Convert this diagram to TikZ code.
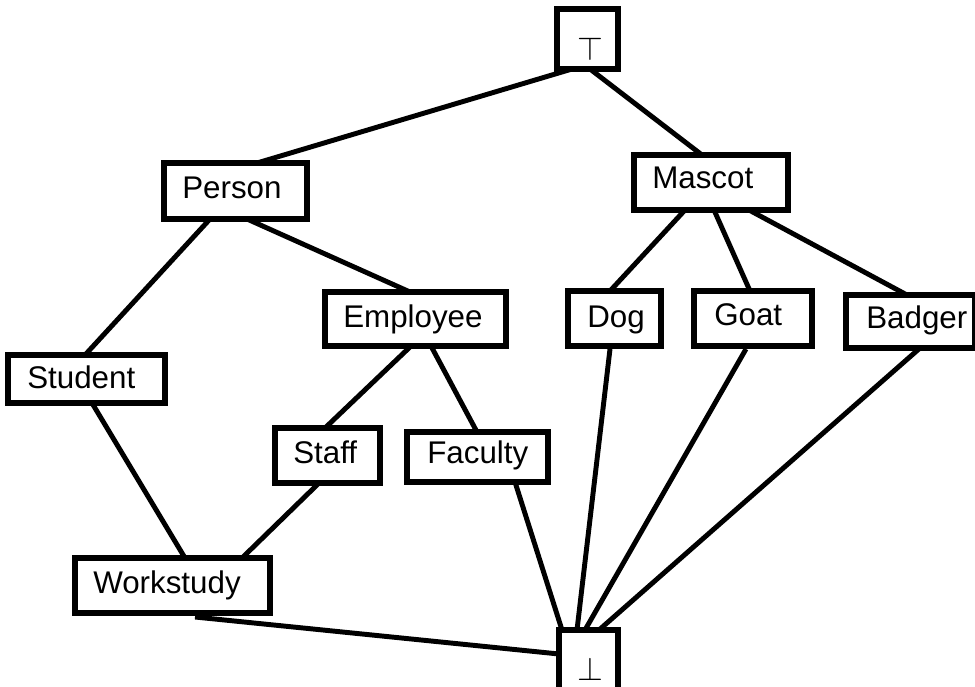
\documentclass[tikz,border=0pt]{standalone}
\usepackage{fontspec}
\setmainfont{Liberation Sans}
\usetikzlibrary{fit,calc}
\begin{document}
\begin{tikzpicture}[x=0.75pt,y=-0.75pt,
  box/.style={draw=black,line width=4.5pt,fill=white,inner sep=0pt,rectangle},
  conn/.style={draw=black,line width=3.7pt},
  lbl/.style={inner sep=0pt,anchor=base west,font=\fontsize{23.5}{28}\selectfont},
  sym/.style={inner sep=0pt,font=\fontsize{25}{25}\selectfont}]
\useasboundingbox (0,0) rectangle (975,686);
\clip (0,0) rectangle (975,686);
% boxes (path corners)
\path[draw=none] (0,0);
\node[box,draw=none,fill=none,fit={(560,12) (615,66)}] (top) {};
\node[box,draw=none,fill=none,fit={(167,166) (304,216)}] (person) {};
\node[box,draw=none,fill=none,fit={(637,158) (785,207)}] (mascot) {};
\node[box,draw=none,fill=none,fit={(328,295) (503,343)}] (employee) {};
\node[box,draw=none,fill=none,fit={(571,294) (658,343)}] (dog) {};
\node[box,draw=none,fill=none,fit={(697,294) (809,343)}] (goat) {};
\node[box,draw=none,fill=none,fit={(849,298) (972,345)}] (badger) {};
\node[box,draw=none,fill=none,fit={(11,358) (162,400)}] (student) {};
\node[box,draw=none,fill=none,fit={(278,431) (377,480)}] (staff) {};
\node[box,draw=none,fill=none,fit={(410,435) (545,479)}] (faculty) {};
\node[box,draw=none,fill=none,fit={(78,561) (267,610)}] (workstudy) {};
\node[box,draw=none,fill=none,fit={(562,633) (615,689)}] (bottom) {};
% connectors
\draw[conn] ($(top.south west)+(15,0)$) -- ($(person.north west)+(93,0)$);
\draw[conn] ($(top.south west)+(33,0)$) -- ($(mascot.north west)+(68,0)$);
\draw[conn] ($(person.south west)+(46,0)$) -- ($(student.north west)+(77,0)$);
\draw[conn] ($(person.south west)+(83,0)$) -- ($(employee.north west)+(85,0)$);
\draw[conn] ($(employee.south west)+(86,0)$) -- ($(staff.north west)+(50,0)$);
\draw[conn] ($(employee.south west)+(106,0)$) -- ($(faculty.north west)+(70,0)$);
\draw[conn] ($(mascot.south west)+(51,0)$) -- ($(dog.north west)+(42,0)$);
\draw[conn] ($(mascot.south west)+(80,0)$) -- ($(goat.north west)+(56,0)$);
\draw[conn] ($(mascot.south west)+(115,0)$) -- ($(badger.north west)+(61,0)$);
\draw[conn] ($(student.south west)+(84,0)$) -- ($(workstudy.north west)+(110,0)$);
\draw[conn] ($(staff.south west)+(44,0)$) -- ($(workstudy.north west)+(167,0)$);
\draw[conn] ($(faculty.south west)+(108,0)$) -- ($(bottom.north west)+(3,0)$);
\draw[conn] ($(dog.south west)+(42,3)$) -- ($(bottom.north west)+(18,0)$);
\draw[conn] ($(goat.south west)+(52,3)$) -- ($(bottom.north west)+(26,0)$);
\draw[conn] ($(badger.south west)+(74,0)$) -- ($(bottom.north west)+(40,0)$);
\draw[conn] ($(workstudy.south west)+(120,4)$) -- ($(bottom.north west)+(0,24)$);
% box outlines on top
\foreach \n in {top,person,mascot,employee,dog,goat,badger,student,staff,faculty,workstudy,bottom}
  \draw[box] (\n.north west) rectangle (\n.south east);
% labels
\node[sym] (topT) at (590,49) {$\top$};
\node[sym] (botT) at (590,669) {$\bot$};
\node[lbl] (personT) at (182,198) {Person};
\node[lbl] (mascotT) at (652,188) {Mascot};
\node[lbl] (employeeT) at (343,327) {Employee};
\node[lbl] (dogT) at (587,327) {Dog};
\node[lbl] (goatT) at (714,325) {Goat};
\node[lbl] (badgerT) at (866,328) {Badger};
\node[lbl] (studentT) at (27,388) {Student};
\node[lbl] (staffT) at (293,463) {Staff};
\node[lbl] (facultyT) at (427,463) {Faculty};
\node[lbl] (workstudyT) at (93,593) {Workstudy};
\end{tikzpicture}
\end{document}
